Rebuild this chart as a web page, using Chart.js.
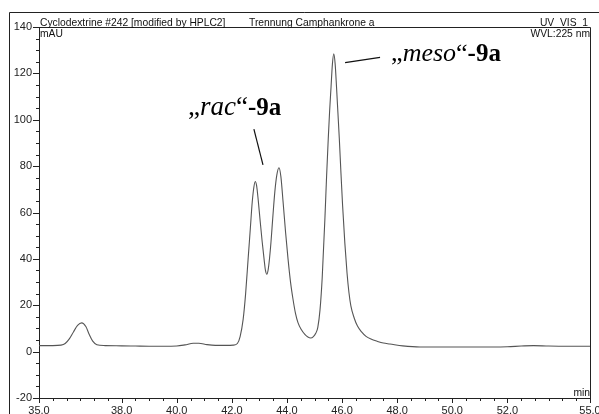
<!DOCTYPE html>
<html>
<head>
<meta charset="utf-8">
<script src="https://cdn.jsdelivr.net/npm/chart.js@4/dist/chart.umd.min.js"></script>
<style>
  html, body { margin: 0; padding: 0; background: #fff; }
</style>
</head>
<body>
<canvas id="chromChart" width="599" height="414"></canvas>
<script>
// retention time (min)
const retentionTimes = [
  35.0, 35.5, 35.8, 35.95, 36.1, 36.25, 36.4, 36.55, 36.7, 36.82, 36.95, 37.1, 37.4,
  38.0, 38.5, 39.0, 39.5, 40.0, 40.3, 40.6, 40.8, 41.1, 41.4, 41.8, 42.05, 42.2, 42.3,
  42.41, 42.5, 42.59, 42.67, 42.74, 42.8, 42.85, 42.9, 42.96, 43.02, 43.1, 43.17, 43.22,
  43.27, 43.32, 43.37, 43.42, 43.49, 43.56, 43.63, 43.71, 43.78, 43.86, 43.95, 44.04,
  44.13, 44.22, 44.31, 44.4, 44.52, 44.65, 44.76, 44.86, 44.96, 45.05, 45.12, 45.2,
  45.28, 45.38, 45.44, 45.5, 45.55, 45.6, 45.65, 45.7, 45.75, 45.8, 45.85, 45.9, 45.96,
  46.02, 46.1, 46.18, 46.25, 46.32, 46.44, 46.56, 46.7, 46.87, 47.05, 47.29, 47.5, 47.74,
  48.2, 48.83, 49.5, 50.5, 51.5, 52.0, 52.5, 52.95, 53.5, 54.2, 55.0
];
// signal (mAU)
const signalValues = [
  2.6, 2.6, 2.8, 3.5, 5.5, 8.5, 11.3, 12.4, 10.8, 7.5, 4.5, 3.0, 2.6,
  2.5, 2.4, 2.3, 2.3, 2.4, 2.9, 3.6, 3.6, 3.0, 2.7, 2.7, 2.8, 3.5, 6.5,
  13.9, 25, 39.9, 53, 64.5, 71, 73.4, 71.5, 65, 57.3, 47.5, 39.9, 35,
  33.4, 35.5, 40.5, 47.2, 58.5, 68.9, 76, 79.3, 75.5, 64.5, 51.5, 39.9,
  30, 22.6, 16.5, 12.5, 9.5, 7.4, 6.3, 5.9, 6.5, 8.0, 10.5, 18,
  32, 58, 76, 92, 104, 114, 124, 128.4, 124, 114, 103, 92, 77,
  63, 47, 34, 25.5, 19.7, 14.5, 11, 8.6, 6.6, 5.4, 4.4, 3.7, 3.3,
  2.5, 2.0, 2.0, 2.0, 2.0, 2.1, 2.4, 2.6, 2.4, 2.3, 2.3
];
// x-axis tick labels
const xTickValues = [35, 38, 40, 42, 44, 46, 48, 50, 52, 55];
// header texts
const headerLeft = 'Cyclodextrine #242 [modified by HPLC2]';
const headerMid = 'Trennung Camphankrone a';
const headerRight = 'UV_VIS_1';
const wavelengthText = 'WVL:225 nm';
const yUnit = 'mAU';
const xUnit = 'min';
// peak labels
const peakNames = ['rac', 'meso'];
const peakSuffix = '-9a';

const SERIF = '"Liberation Serif", "Times New Roman", serif';
const SANS = '"Liberation Sans", Arial, sans-serif';

// 标注位置 (数据坐标)
const annotations = [
  { name: peakNames[0], t: 40.41, v: 102, size: 27, boldSize: 25, line: [42.80, 96, 43.13, 80.5] },
  { name: peakNames[1], t: 47.78, v: 125.3, size: 26, boldSize: 25, line: [46.11, 124.6, 47.38, 126.9] }
];

// 画边框、小刻度、文字
const decorPlugin = {
  id: 'decor',
  afterDraw(chart) {
    const { ctx, chartArea: a, scales: { x, y } } = chart;
    ctx.save();
    ctx.strokeStyle = '#222';
    ctx.lineWidth = 1;

    // outer frame
    ctx.beginPath();
    ctx.moveTo(9.5, 414);
    ctx.lineTo(9.5, 12.5);
    ctx.lineTo(599, 12.5);
    // plot frame top / right
    ctx.moveTo(a.left, a.top + 0.5);
    ctx.lineTo(a.right + 0.5, a.top + 0.5);
    ctx.lineTo(a.right + 0.5, a.bottom);
    ctx.stroke();

    // y ticks
    ctx.beginPath();
    for (let v = -20; v <= 140; v += 5) {
      const py = Math.round(y.getPixelForValue(v)) + 0.5;
      const len = v % 20 === 0 ? 6 : 3;
      ctx.moveTo(a.left - len, py);
      ctx.lineTo(a.left, py);
    }
    // x ticks
    for (let i = 0; i <= 40; i++) {
      const t = 35 + i * 0.5;
      const px = Math.round(x.getPixelForValue(t)) + 0.5;
      const len = xTickValues.includes(t) ? 5 : 3;
      ctx.moveTo(px, a.bottom);
      ctx.lineTo(px, a.bottom + len);
    }
    ctx.stroke();

    // header texts
    ctx.fillStyle = '#111';
    ctx.font = '10.3px ' + SANS;
    ctx.textBaseline = 'alphabetic';
    ctx.textAlign = 'left';
    ctx.fillText(headerLeft, 40, 26);
    ctx.fillText(headerMid, 249, 26);
    ctx.fillText(yUnit, 40, 37);
    ctx.textAlign = 'right';
    ctx.fillText(headerRight, 588, 26);
    ctx.fillText(wavelengthText, 590, 37);
    ctx.fillText(xUnit, 590, 396);

    // peak labels
    ctx.textAlign = 'left';
    ctx.fillStyle = '#000';
    annotations.forEach(an => {
      let px = x.getPixelForValue(an.t);
      const py = y.getPixelForValue(an.v);
      const parts = [
        { text: '\u201E', font: an.size + 'px ' + SERIF },
        { text: an.name, font: 'italic ' + an.size + 'px ' + SERIF },
        { text: '\u201C', font: an.size + 'px ' + SERIF },
        { text: peakSuffix, font: 'bold ' + an.boldSize + 'px ' + SERIF }
      ];
      parts.forEach(p => {
        ctx.font = p.font;
        ctx.fillText(p.text, px, py);
        px += ctx.measureText(p.text).width;
      });
      ctx.beginPath();
      ctx.lineWidth = 1.2;
      ctx.strokeStyle = '#111';
      ctx.moveTo(x.getPixelForValue(an.line[0]), y.getPixelForValue(an.line[1]));
      ctx.lineTo(x.getPixelForValue(an.line[2]), y.getPixelForValue(an.line[3]));
      ctx.stroke();
    });
    ctx.restore();
  }
};

const points = retentionTimes.map((t, i) => ({ x: t, y: signalValues[i] }));

new Chart(document.getElementById('chromChart'), {
  type: 'line',
  data: {
    datasets: [{
      data: points,
      borderColor: '#555',
      borderWidth: 1.1,
      pointRadius: 0,
      cubicInterpolationMode: 'monotone',
      fill: false
    }]
  },
  options: {
    responsive: false,
    animation: false,
    layout: { padding: { top: 27, right: 9, left: 0, bottom: 0 } },
    plugins: {
      legend: { display: false },
      tooltip: { enabled: false }
    },
    scales: {
      x: {
        type: 'linear',
        min: 35,
        max: 55,
        grid: { display: false, drawTicks: false },
        border: { display: true, color: '#222', width: 1 },
        afterBuildTicks: (s) => { s.ticks = xTickValues.map(v => ({ value: v })); },
        afterFit: (s) => { s.height = 16; s.paddingLeft = 0; s.paddingRight = 0; },
        ticks: {
          autoSkip: false,
          maxRotation: 0,
          padding: 6,
          color: '#222',
          font: { family: SANS, size: 11 },
          callback: (v) => Number(v).toFixed(1).replace('.', ',')
        }
      },
      y: {
        min: -20,
        max: 140,
        grid: { display: false, drawTicks: false },
        border: { display: true, color: '#222', width: 1 },
        afterFit: (s) => { s.width = 39; s.paddingTop = 0; s.paddingBottom = 0; },
        ticks: {
          stepSize: 20,
          padding: 7,
          color: '#222',
          font: { family: SANS, size: 11 }
        }
      }
    }
  },
  plugins: [decorPlugin]
});
</script>
</body>
</html>
